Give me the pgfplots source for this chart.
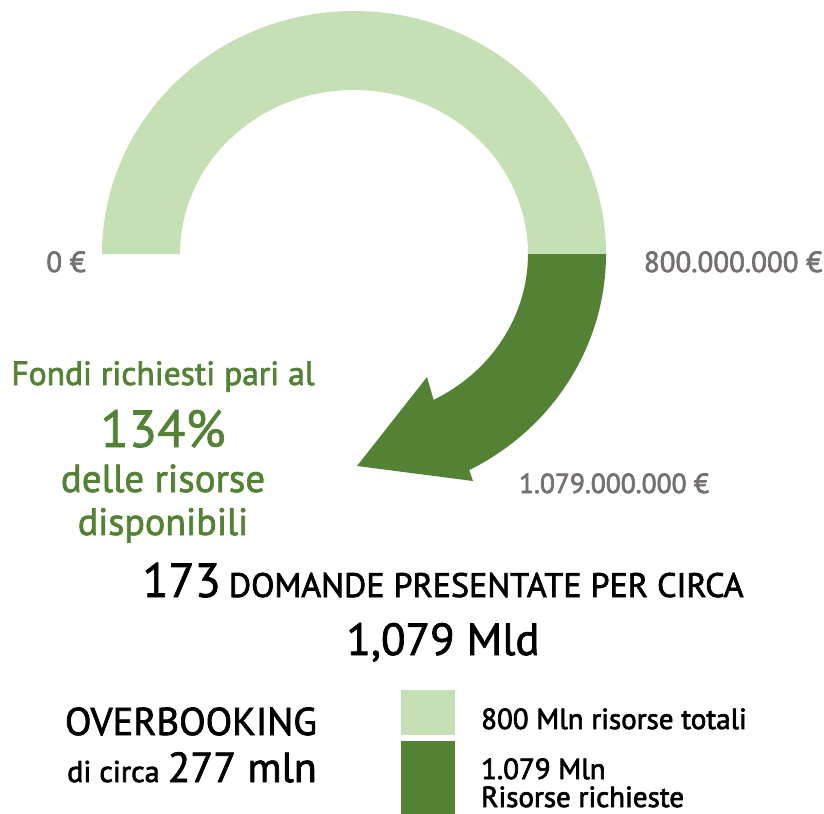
\documentclass[border=0pt]{standalone}
\usepackage{pgfplots}
\pgfplotsset{compat=1.18}
\usepackage{pgfplotstable}
\usepackage{fontspec}
\setmainfont{PT Sans}
\definecolor{lightg}{HTML}{C5E0B4}
\definecolor{darkg}{HTML}{548235}
\definecolor{txtgray}{HTML}{767171}
\pgfplotstableread{
serie valore
totali 800
richieste 1079
}\dati
\pgfplotstablegetelem{0}{valore}\of\dati \let\vtot\pgfplotsretval
\pgfplotstablegetelem{1}{valore}\of\dati \let\vric\pgfplotsretval
\pgfmathsetmacro{\endang}{-180/\vtot*(\vric-\vtot)}
\newcommand{\fs}[1]{\fontsize{#1bp}{#1bp}\selectfont}
\newcommand{\heavy}[1]{\special{pdf:literal 2 Tr 0.7 w}#1\special{pdf:literal 0 Tr}}
\begin{document}
\begin{tikzpicture}
\begin{axis}[
  width=824bp, height=814bp, scale only axis,
  xmin=0, xmax=824, ymin=0, ymax=814, y dir=reverse,
  hide axis, clip=false]
% half ring: 800 = 180 degrees
\fill[lightg] (axis cs:102,254) arc[start angle=180, end angle=0, x radius=252bp, y radius=243bp]
  -- (axis cs:528,254) arc[start angle=0, end angle=180, x radius=174bp, y radius=164bp] -- cycle;
% overflow arrow: 1079
\fill[darkg] (axis cs:606,254) arc[start angle=0, end angle=\endang, x radius=252bp, y radius=243bp]
  -- (axis cs:473,481) -- (axis cs:357,466) -- (axis cs:427,377)
  -- ([shift={(\endang:174bp and 164bp)}]axis cs:354,254)
  arc[start angle=\endang, end angle=0, x radius=174bp, y radius=164bp] -- cycle;
% value labels
\node[anchor=base, text=txtgray, font=\fs{29}] at (axis cs:66,272) {\heavy{0 €}};
\node[anchor=base, text=txtgray, font=\fs{29}] at (axis cs:733,272) {\heavy{800.000.000 €}};
\node[anchor=base, text=txtgray, font=\fs{27.5}] at (axis cs:614,493) {\heavy{1.079.000.000 €}};
% green text
\node[anchor=base, text=darkg, font=\fs{33.5}] at (axis cs:163,385) {\heavy{Fondi richiesti pari al}};
\node[anchor=base, text=darkg, font=\fs{52}] at (axis cs:163,447) {\heavy{134\%}};
\node[anchor=base, text=darkg, font=\fs{39}] at (axis cs:163,492) {\heavy{delle risorse}};
\node[anchor=base, text=darkg, font=\fs{38}] at (axis cs:163,535) {\heavy{disponibili}};
% black text
\node[anchor=base, text=black] at (axis cs:443,597) {\heavy{\fs{48}173\,\fs{34}DOMANDE PRESENTATE PER CIRCA}};
\node[anchor=base, text=black, font=\fs{45}] at (axis cs:443,655) {\heavy{1,079 Mld}};
\node[anchor=base, text=black, font=\fs{38.8}] at (axis cs:191,735) {\heavy{OVERBOOKING}};
\node[anchor=base, text=black] at (axis cs:192,782) {\heavy{\fs{30}di circa \fs{42}277 mln}};
% legend
\fill[lightg] (axis cs:401,690) rectangle (axis cs:455,735);
\fill[darkg] (axis cs:401,741) rectangle (axis cs:455,814);
\node[anchor=base west, text=black, font=\fs{29}, inner sep=0pt] at (axis cs:481,729) {\heavy{800 Mln risorse totali}};
\node[anchor=base west, text=black, font=\fs{29}, inner sep=0pt] at (axis cs:481,779) {\heavy{1.079 Mln}};
\node[anchor=base west, text=black, font=\fs{29}, inner sep=0pt] at (axis cs:481,807) {\heavy{Risorse richieste}};
\end{axis}
\pgfresetboundingbox
\path (0,0) rectangle (824bp,814bp);
\end{tikzpicture}
\end{document}
